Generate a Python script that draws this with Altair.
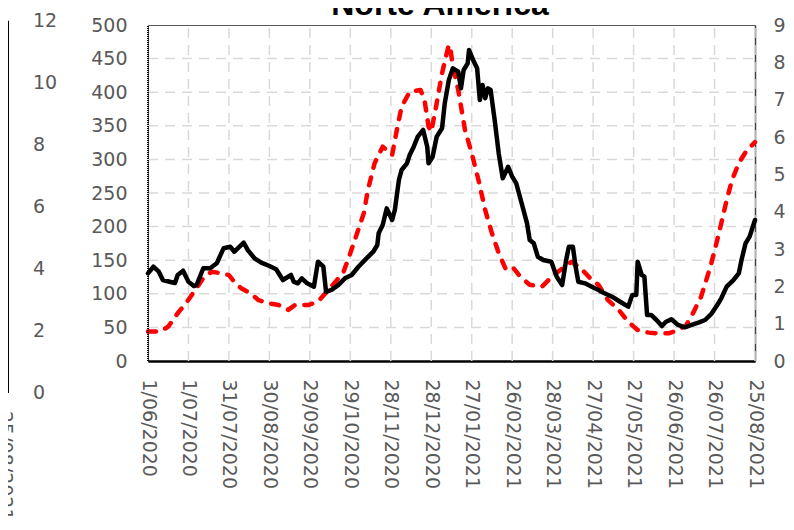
import json
import altair as alt
import pandas as pd

# ---- data ----
# days since 1/06/2020
black_day = [0, 4, 8, 11, 16, 20, 22, 26, 30, 34, 36, 41, 46, 51, 56, 61, 64, 71, 74, 79,
             84, 90, 95, 100, 106, 108, 111, 114, 118, 123, 126, 130, 132, 136, 141, 146,
             151, 156, 162, 167, 170, 171, 174, 177, 181, 183, 186, 188, 192, 194, 197,
             200, 204, 207, 208, 211, 214, 218, 220, 223, 226, 230, 232, 234, 237, 238,
             241, 244, 246, 248, 250, 252, 254, 257, 260, 263, 267, 270, 273, 277, 281,
             283, 286, 289, 293, 299, 303, 307, 310, 312, 315, 317, 319, 324, 329, 334,
             336, 344, 350, 356, 359, 362, 363, 366, 368, 370, 373, 377, 381, 384, 388,
             393, 398, 403, 408, 413, 418, 422, 425, 429, 434, 438, 440, 443, 446, 450]
black_val = [130.5, 140.3, 132.9, 120.5, 118.0, 116.0, 128.0, 134.4, 118.0, 111.6, 113.0,
             138.0, 138.0, 145.4, 167.7, 170.0, 162.6, 176.0, 165.0, 152.8, 146.3, 141.4,
             136.5, 120.5, 128.0, 118.0, 115.6, 123.0, 115.6, 110.6, 147.8, 140.3, 103.0,
             105.7, 113.0, 123.0, 128.0, 140.3, 152.8, 162.6, 172.6, 190.0, 202.4, 227.2,
             209.8, 224.7, 269.3, 284.2, 294.2, 306.5, 318.9, 333.8, 343.8, 318.9, 294.2,
             304.0, 333.8, 346.3, 383.5, 418.0, 435.6, 430.5, 405.8, 433.0, 443.0, 462.8,
             448.0, 435.6, 388.4, 410.7, 391.0, 405.8, 403.3, 358.6, 309.0, 271.9, 289.1,
             274.3, 264.4, 234.7, 204.9, 180.0, 175.1, 155.2, 150.3, 147.8, 125.4, 113.0,
             150.3, 170.0, 170.0, 140.3, 118.0, 115.6, 110.6, 105.7, 103.0, 95.7, 88.2,
             80.8, 98.2, 98.2, 147.8, 128.0, 125.4, 68.5, 68.5, 61.0, 52.0, 58.5, 62.0,
             53.6, 50.1, 53.6, 57.0, 61.0, 71.0, 83.3, 93.3, 110.6, 120.5, 130.5, 150.3,
             175.1, 185.0, 209.8]

red_day = [0, 9, 15, 22, 29, 35, 41, 47, 55, 60, 64, 69, 76, 82, 89, 97, 104, 109, 119,
           126, 132, 139, 145, 150, 155, 160, 163, 168, 174, 181, 184, 188, 194, 202, 205,
           208, 210, 214, 218, 223, 224, 226, 230, 235, 240, 245, 250, 255, 260, 265, 270,
           276, 283, 292, 297, 304, 314, 322, 329, 334, 341, 349, 356, 363, 371, 378, 386,
           393, 399, 404, 410, 417, 422, 425, 429, 433, 438, 444, 450]
red_val = [0.79, 0.79, 0.92, 1.28, 1.59, 1.90, 2.22, 2.39, 2.35, 2.30, 2.12, 1.95, 1.81,
           1.63, 1.55, 1.50, 1.37, 1.50, 1.50, 1.59, 1.83, 2.12, 2.39, 2.89, 3.42, 3.96,
           4.58, 5.30, 5.74, 5.52, 6.10, 6.81, 7.21, 7.26, 6.99, 6.28, 6.14, 6.90, 7.71,
           8.47, 8.42, 7.88, 7.26, 6.19, 5.56, 4.85, 4.04, 3.42, 2.89, 2.48, 2.53, 2.26,
           2.04, 1.99, 2.17, 2.39, 2.66, 2.44, 2.17, 2.04, 1.63, 1.37, 1.05, 0.83, 0.76,
           0.74, 0.74, 0.83, 0.96, 1.28, 1.72, 2.53, 3.24, 3.69, 4.31, 4.85, 5.30, 5.65,
           5.86]

x_ticks = list(range(0, 451, 30))
x_labels = ["1/06/2020", "1/07/2020", "31/07/2020", "30/08/2020", "29/09/2020",
            "29/10/2020", "28/11/2020", "28/12/2020", "27/01/2021", "26/02/2021",
            "28/03/2021", "27/04/2021", "27/05/2021", "26/06/2021", "26/07/2021",
            "25/08/2021"]
left_ticks = list(range(0, 501, 50))
right_ticks = list(range(0, 10))
frag_ticks = [0, 2, 4, 6, 8, 10, 12]
frag_xlabel = ["25/08/2021"]
title_text = ["Norte América"]

FONT = "DejaVu Sans"
GRAY = "#595959"
GRID = "#d9d9d9"

black_df = pd.DataFrame({"d": black_day, "v": black_val})
red_df = pd.DataFrame({"d": red_day, "v": red_val})

label_expr = f"{json.dumps(x_labels)}[indexof({json.dumps(x_ticks)}, datum.value)]"

x_scale = alt.Scale(domain=[min(x_ticks), max(x_ticks)], nice=False, zero=False)
x_axis = alt.Axis(
    values=x_ticks, labelExpr=label_expr, labelAngle=90, labelAlign="left",
    labelBaseline="middle", labelFont=FONT, labelFontSize=19, labelColor=GRAY,
    labelPadding=18, ticks=False, tickSize=0, grid=False, domainColor="black",
    domainWidth=2.5, labelOverlap=False, labelFlush=False, title=None,
)
left_scale = alt.Scale(domain=[min(left_ticks), max(left_ticks)], nice=False)

# gridlines (dashed, light grey), interior ones only
vg_ticks = x_ticks[1:]
vgrid_df = pd.DataFrame({"d": vg_ticks, "lo": [min(left_ticks)] * len(vg_ticks),
                         "hi": [max(left_ticks)] * len(vg_ticks)})
vgrid = alt.Chart(vgrid_df).mark_rule(color=GRID, strokeWidth=1.5, strokeDash=[10, 7]).encode(
    x=alt.X("d:Q", scale=x_scale, axis=x_axis),
    y=alt.Y("lo:Q", scale=left_scale, axis=None),
    y2="hi:Q",
)
hg_ticks = left_ticks[1:-1]
hgrid_df = pd.DataFrame({"v": hg_ticks, "a": [min(x_ticks)] * len(hg_ticks),
                         "b": [max(x_ticks)] * len(hg_ticks)})
hgrid = alt.Chart(hgrid_df).mark_rule(color=GRID, strokeWidth=1.5, strokeDash=[10, 7]).encode(
    x=alt.X("a:Q", scale=x_scale, axis=x_axis),
    x2="b:Q",
    y=alt.Y("v:Q", scale=left_scale, axis=None),
)

red = alt.Chart(red_df).mark_line(
    color="#ff0000", strokeWidth=4.5, strokeDash=[8, 10], strokeCap="round", strokeJoin="round"
).encode(
    x=alt.X("d:Q", scale=x_scale, axis=x_axis),
    y=alt.Y(
        "v:Q",
        scale=alt.Scale(domain=[min(right_ticks), max(right_ticks)], nice=False),
        axis=alt.Axis(
            orient="right", values=right_ticks, labelFont=FONT, labelFontSize=19,
            labelColor=GRAY, labelPadding=18, ticks=False, tickSize=0, grid=False,
            domainColor="#404040", domainWidth=1.5, title=None,
        ),
    ),
)

black = alt.Chart(black_df).mark_line(
    color="black", strokeWidth=4.5, strokeJoin="round", strokeCap="round"
).encode(
    x=alt.X("d:Q", scale=x_scale, axis=x_axis),
    y=alt.Y(
        "v:Q",
        scale=left_scale,
        axis=alt.Axis(
            orient="left", values=left_ticks, labelFont=FONT, labelFontSize=19,
            labelColor=GRAY, labelPadding=21, ticks=False, tickSize=0, grid=False,
            domain=False, title=None,
        ),
    ),
)

# dotted left edge of the plot
ledge_df = pd.DataFrame({"d": [min(x_ticks)], "lo": [min(left_ticks)], "hi": [max(left_ticks)]})
ledge = alt.Chart(ledge_df).mark_rule(color="black", strokeWidth=2, strokeDash=[1, 1]).encode(
    x=alt.X("d:Q", scale=x_scale, axis=x_axis),
    y=alt.Y("lo:Q", scale=left_scale, axis=None),
    y2="hi:Q",
)

# fragment of the neighbouring chart (its right-hand axis) on the left
frag_scale = alt.Scale(domain=[1.031, 11.86], nice=False, zero=False)
frag_df = pd.DataFrame({"t": frag_ticks, "lab": [str(t) for t in frag_ticks]})
frag_text = alt.Chart(frag_df).mark_text(
    align="left", baseline="middle", font=FONT, fontSize=19, color=GRAY
).encode(
    x=alt.value(-115),
    y=alt.Y("t:Q", scale=frag_scale, axis=None),
    text="lab:N",
)
frag_rule_df = pd.DataFrame({"a": [min(frag_ticks)], "b": [max(frag_ticks)]})
frag_rule = alt.Chart(frag_rule_df).mark_rule(color="black", strokeWidth=3).encode(
    x=alt.value(-140.5),
    y=alt.Y("a:Q", scale=frag_scale, axis=None),
    y2="b:Q",
)
frag_lab = alt.Chart(pd.DataFrame({"t": frag_xlabel})).mark_text(
    align="left", baseline="middle", angle=90, font=FONT, fontSize=19, color=GRAY
).encode(x=alt.value(-143), y=alt.value(386), text="t:N")

title = alt.Chart(pd.DataFrame({"t": title_text})).mark_text(
    align="center", baseline="alphabetic", font="Liberation Sans", fontSize=32,
    fontWeight="bold", color="black"
).encode(x=alt.value(292), y=alt.value(-10), text="t:N")

chart = (
    alt.layer(vgrid, hgrid, red, black, ledge, frag_text, frag_rule, frag_lab, title)
    .resolve_scale(y="independent")
    .properties(
        width=607, height=336,
        autosize=alt.AutoSizeParams(type="none"),
        padding={"left": 140, "top": 17, "right": 31, "bottom": 160},
        background="white",
    )
    .configure_view(stroke="#595959", strokeWidth=1)
)

chart.save("out.html", embed_options={"renderer": "svg", "actions": False})
